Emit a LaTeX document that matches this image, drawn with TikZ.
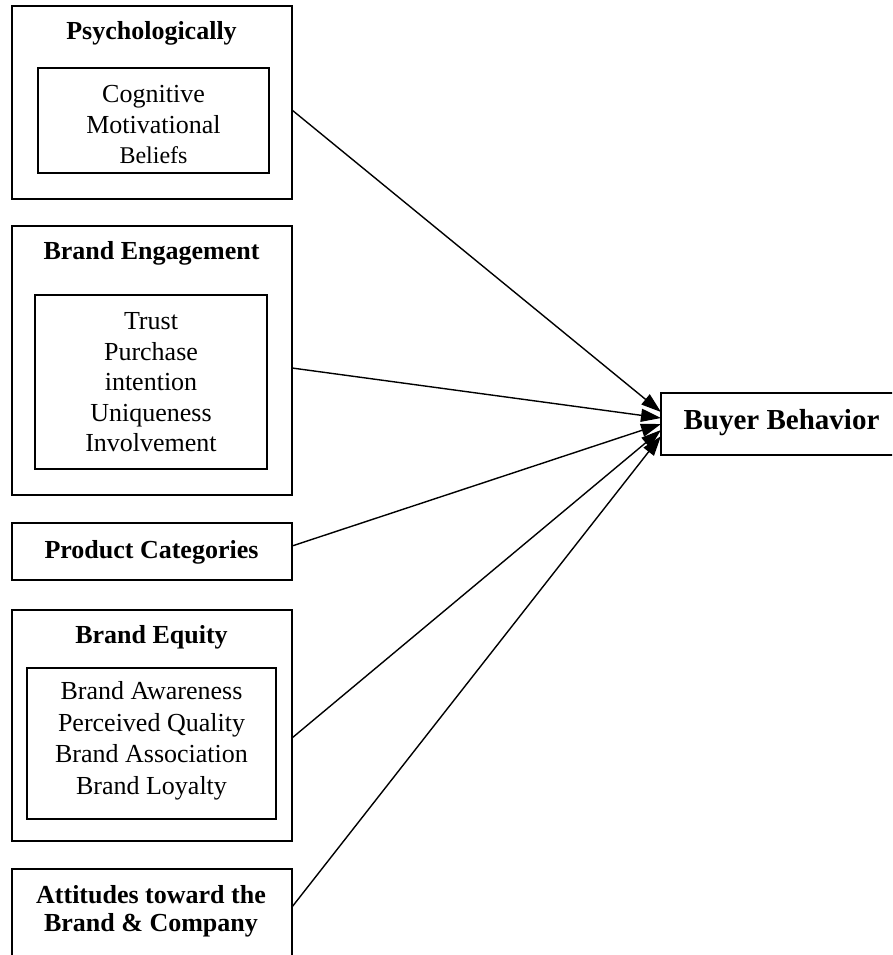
\documentclass[tikz,border=0pt]{standalone}
\usepackage{fontspec}
\setmainfont{Liberation Serif}
\usetikzlibrary{arrows.meta}
\begin{document}
\begin{tikzpicture}[x=1pt,y=-1pt,
  box/.style={draw=black, line width=1.8pt, rectangle, inner sep=0pt, outer sep=0pt},
  ttl/.style={font=\fontsize{26}{30}\selectfont\bfseries, inner sep=0pt, align=center},
  items/.style={font=\fontsize{26}{30.5}\selectfont, inner sep=0pt, align=center},
  conn/.style={line width=1.4pt, -{Triangle[length=20pt,width=13pt]}}]
\path[use as bounding box, clip] (0,0) rectangle (892,955);
\fill[white] (0,0) rectangle (892,955);
% Box 1
\node[box, minimum width=280pt, minimum height=193pt] (b1) at (152,102.5) {};
\node[ttl] (t1) at (151.5,33) {Psychologically};
\node[box, minimum width=231pt, minimum height=105pt] (i1) at (153.5,120.5) {};
\node[items] (l1) at (153.5,125) {Cognitive\\Motivational\\{\fontsize{24}{28}\selectfont Beliefs}};
% Box 2
\node[box, minimum width=280pt, minimum height=269pt] (b2) at (152,360.5) {};
\node[ttl] (t2) at (151.5,253) {Brand Engagement};
\node[box, minimum width=232pt, minimum height=174pt] (i2) at (151,382) {};
\node[items] (l2) at (151,382.5) {Trust\\Purchase\\intention\\Uniqueness\\Involvement};
% Box 3
\node[box, minimum width=280pt, minimum height=57pt] (b3) at (152,551.5) {};
\node[ttl] (t3) at (151.5,552) {Product Categories};
% Box 4
\node[box, minimum width=280pt, minimum height=231pt] (b4) at (152,725.5) {};
\node[ttl] (t4) at (151.5,637) {Brand Equity};
\node[box, minimum width=249pt, minimum height=151pt] (i4) at (151.5,743.5) {};
\node[items, font=\fontsize{26}{31.5}\selectfont] (l4) at (151.5,741) {Brand Awareness\\Perceived Quality\\Brand Association\\Brand Loyalty};
% Box 5 (cut at bottom)
\node[box, minimum width=280pt, minimum height=106pt] (b5) at (152,922) {};
\node[ttl, font=\fontsize{26}{28}\selectfont\bfseries] (t5) at (151,911) {Attitudes toward the\\Brand \& Company};
% Buyer Behavior (cut at right)
\node[box, minimum width=245pt, minimum height=62pt] (bb) at (783.5,424) {};
\node[ttl, font=\fontsize{29}{32}\selectfont\bfseries] (tb) at (781.5,423) {Buyer Behavior};
% Connectors
\draw[conn] ([yshift=-7.5pt]b1.east) -- ([yshift=12pt]bb.west);
\draw[conn] ([yshift=-7.5pt]b2.east) -- ([yshift=6pt]bb.west);
\draw[conn] ([yshift=5.5pt]b3.east) -- ([yshift=0pt]bb.west);
\draw[conn] ([yshift=-12.5pt]b4.east) -- ([yshift=-6pt]bb.west);
\draw[conn] ([yshift=15pt]b5.east) -- ([yshift=-12pt]bb.west);
\end{tikzpicture}
\end{document}
